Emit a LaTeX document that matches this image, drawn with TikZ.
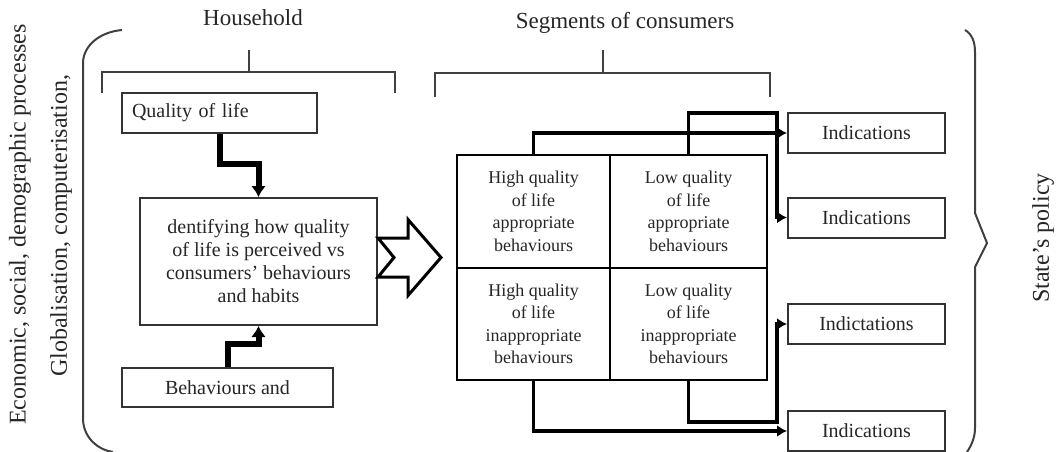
\documentclass[tikz,border=0pt]{standalone}
\usepackage{fontspec}
\setmainfont{Liberation Serif}
\usetikzlibrary{arrows.meta,calc}
\begin{document}
\begin{tikzpicture}[x=1pt,y=-1pt,
  box/.style={draw=black!80, line width=2pt, fill=white, inner sep=0pt, align=center,
    font=\fontsize{20}{23}\selectfont, text=black!85},
  cell/.style={draw=black, line width=2.5pt, inner sep=0pt, align=center,
    font=\fontsize{18}{22.5}\selectfont, text=black!85},
  ind/.style={box, minimum width=157pt, minimum height=40pt},
  thickarrow/.style={line width=6pt, -{Latex[length=11pt,width=15pt]}},
  conn/.style={line width=3.5pt, -{Latex[length=10pt,width=12pt]}},
  brk/.style={draw=black!75, line width=2pt},
  lbl/.style={font=\fontsize{23}{26}\selectfont, text=black!85, inner sep=0pt},
  side/.style={font=\fontsize{24}{27}\selectfont, text=black!85, inner sep=0pt, rotate=90},
]
\useasboundingbox (0,0) rectangle (1062,452);

% side texts
\node[side] (econ) at (20,224.5) {Economic, social, demographic processes};
\node[side] (glob) at (61,226) {Globalisation, computerisation,};
\node[side] (state) at (1043,238) {State's policy};

% braces
\draw[brk] (122,30) .. controls (100,32) and (84,45) .. (83,62) -- (83,420)
  .. controls (84,438) and (98,450) .. (113,452);
\draw[brk] (965,30) .. controls (972,34) and (975,42) .. (975,52) -- (975,213)
  -- (987,243) -- (975,267) -- (975,428) .. controls (975,438) and (971,446) .. (967,452);

% headers and brackets
\node[lbl] (hh) at (253,18) {Household};
\node[lbl] (seg) at (625,23) {Segments of consumers};
\draw[brk] (102,93) -- (102,72) -- (395,72) -- (395,93);
\draw[brk] (249,72) -- (249,50);
\draw[brk] (435,97) -- (435,73) -- (770,73) -- (770,97);
\draw[brk] (603,73) -- (603,50);

% household boxes
\node[box, minimum width=195pt, minimum height=40pt, text width=175pt, align=left, inner xsep=10pt]
  (qol) at (219.5,113) {Quality of life};
\node[box, minimum width=237pt, minimum height=127pt] (main) at (258.5,261.5)
  {dentifying how quality\\ of life is perceived vs\\ consumers' behaviours\\ and habits};
\node[box, minimum width=211pt, minimum height=39pt] (beh) at (227.5,387.5) {Behaviours and};

\draw[thickarrow] (qol.south) -- ++(0,30) -| (main.north);
\draw[thickarrow] (beh.north) -- ++(0,-23) -| (main.south);

% hollow arrow
\begin{scope}[shift={($(main.east)+(0,-4)$)}]
  \draw[line width=3pt, fill=white, line join=miter]
    (0,-19.5) -- (30,-19.5) -- (30,-38) -- (63,0) -- (30,38) -- (30,19.5) -- (0,19.5) -- (16,0) -- cycle;
\end{scope}

% segment grid
\node[cell, minimum width=153pt, minimum height=113pt] (c11) at (533.5,211.5)
  {High quality\\ of life\\ appropriate\\ behaviours};
\node[cell, minimum width=157pt, minimum height=113pt] (c12) at (688.5,211.5)
  {Low quality\\ of life\\ appropriate\\ behaviours};
\node[cell, minimum width=153pt, minimum height=112pt] (c21) at (533.5,324)
  {High quality\\ of life\\ inappropriate\\ behaviours};
\node[cell, minimum width=157pt, minimum height=112pt] (c22) at (688.5,324)
  {Low quality\\ of life\\ inappropriate\\ behaviours};

% indicator boxes
\node[ind] (i1) at (866.5,133) {Indications};
\node[ind] (i2) at (866.5,217.5) {Indications};
\node[ind] (i3) at (866.5,324) {Indictations};
\node[ind] (i4) at (866.5,431) {Indications};

\coordinate (k1) at (777,113);
\coordinate (k2) at (777,422);
\draw[conn] (c11.north) |- (i1.west);
\draw[conn] (c12.north) |- (k1) |- (i2.west);
\draw[conn] (c22.south) |- (k2) |- (i3.west);
\draw[conn] (c21.south) |- (i4.west);
\end{tikzpicture}
\end{document}
